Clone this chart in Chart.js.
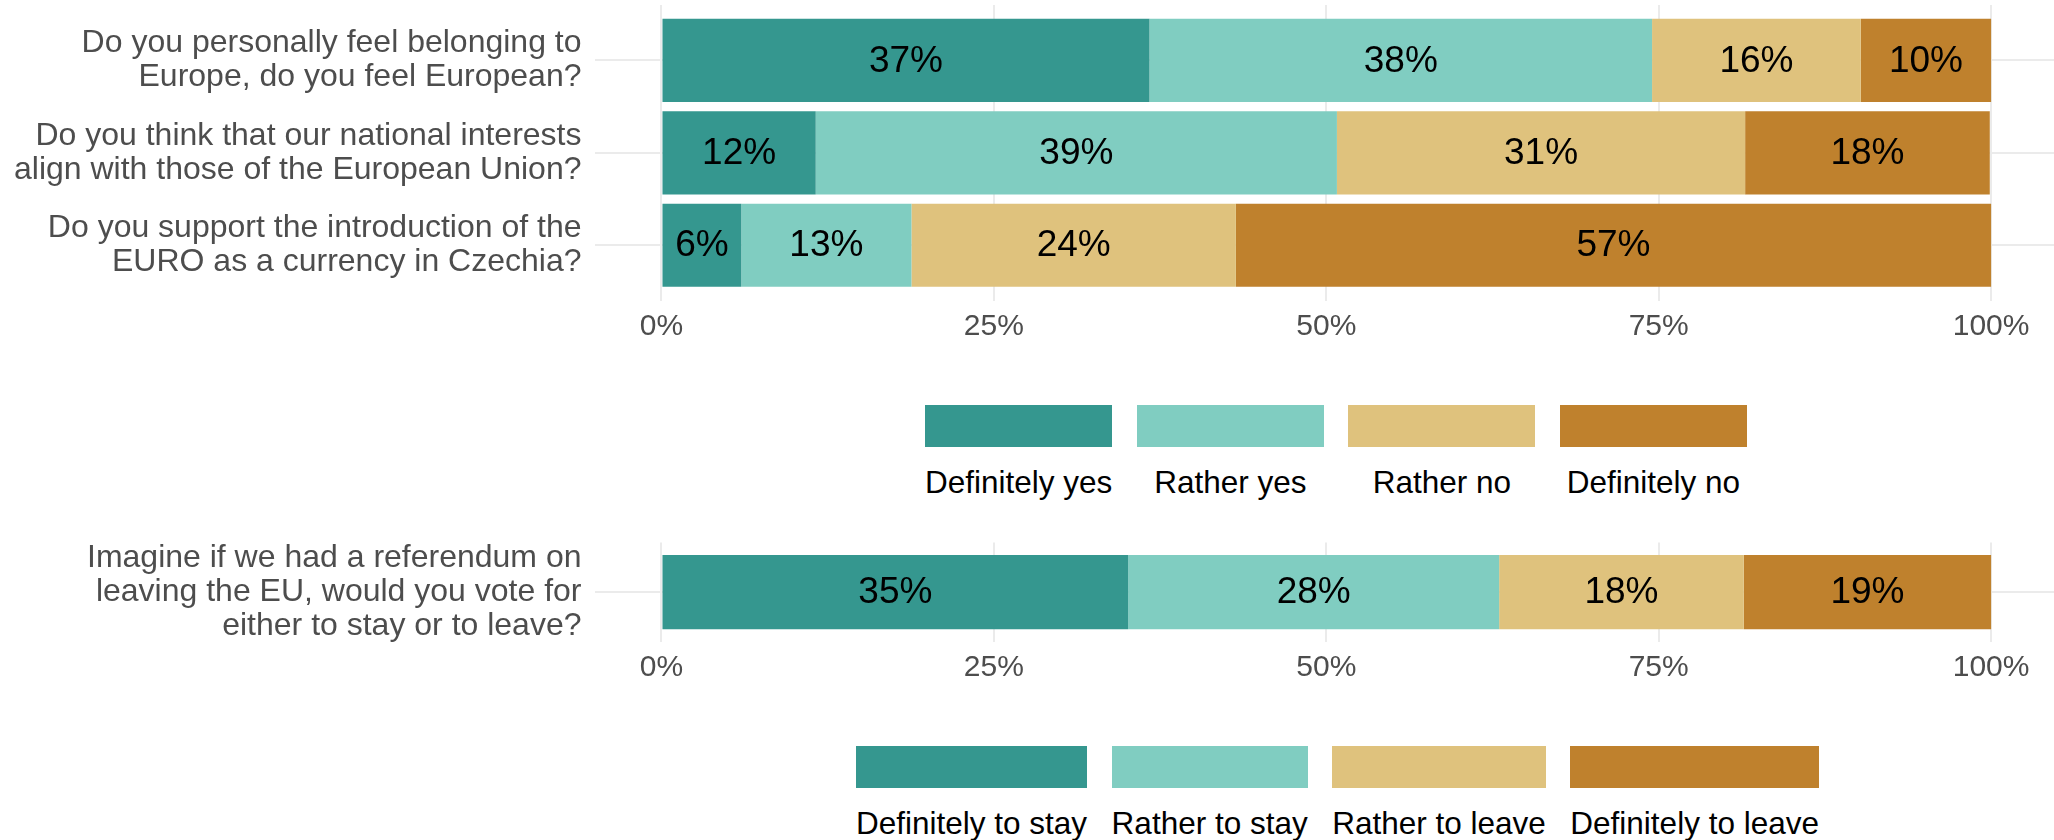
<!DOCTYPE html>
<html>
<head>
<meta charset="utf-8">
<script src="https://cdn.jsdelivr.net/npm/chart.js@4.4.0/dist/chart.umd.min.js"></script>
<style>
  body { margin: 0; background: #fff; width: 2054px; height: 840px; overflow: hidden; position: relative;
         font-family: "Liberation Sans", Arial, sans-serif; }
  .panel { position: absolute; left: 0; width: 2054px; }
  #topPanel { top: 0; height: 345px; }
  #bottomPanel { top: 530px; height: 156px; }
  .legend { position: absolute; display: flex; gap: 24.5px; }
  #legendTop { left: 925px; top: 405px; }
  #legendBottom { left: 856px; top: 746px; }
  .item { display: flex; flex-direction: column; align-items: center; min-width: 187px; }
  .key { width: 100%; height: 42px; }
  .lab { margin-top: 17px; font-size: 31.5px; line-height: 36px; color: #000; white-space: nowrap; }
</style>
</head>
<body>
<div class="panel" id="topPanel"><canvas id="chartTop"></canvas></div>
<div class="legend" id="legendTop"></div>
<div class="panel" id="bottomPanel"><canvas id="chartBottom"></canvas></div>
<div class="legend" id="legendBottom"></div>
<script>
const COLORS = ["#35978F", "#80CDC1", "#DFC27D", "#BF812D"];

// top block: three attitude questions
const questionsTop = [
  ["Do you personally feel belonging to", "Europe, do you feel European?"],
  ["Do you think that our national interests", "align with those of the European Union?"],
  ["Do you support the introduction of the", "EURO as a currency in Czechia?"],
];
const answersTop = ["Definitely yes", "Rather yes", "Rather no", "Definitely no"];
const definitelyYes = [36.7, 11.6, 6.0];
const ratherYes = [37.8, 39.2, 12.8];
const ratherNo = [15.7, 30.7, 24.4];
const definitelyNo = [9.8, 18.4, 56.8];

// bottom block: referendum question
const questionsBottom = [["Imagine if we had a referendum on", "leaving the EU, would you vote for", "either to stay or to leave?"]];
const answersBottom = ["Definitely to stay", "Rather to stay", "Rather to leave", "Definitely to leave"];
const definitelyStay = [35.1];
const ratherStay = [27.9];
const ratherLeave = [18.4];
const definitelyLeave = [18.6];

const xTicks = [0, 25, 50, 75, 100];

Chart.defaults.font.family = '"Liberation Sans", Arial, sans-serif';

const barLabels = {
  id: "barLabels",
  afterDatasetsDraw(chart) {
    const ctx = chart.ctx;
    ctx.save();
    ctx.font = '37px "Liberation Sans", Arial, sans-serif';
    ctx.fillStyle = "#000";
    ctx.textAlign = "center";
    ctx.textBaseline = "middle";
    chart.data.datasets.forEach((ds, i) => {
      chart.getDatasetMeta(i).data.forEach((bar, j) => {
        const { x, y, base } = bar.getProps(["x", "y", "base"], true);
        ctx.fillText(Math.round(ds.data[j].x) + "%", (x + base) / 2, y + 1);
      });
    });
    ctx.restore();
  },
};

function makeChart(canvasId, questions, answers, series, barPct, padTop) {
  const n = questions.length;
  return new Chart(document.getElementById(canvasId), {
    type: "bar",
    data: {
      datasets: answers.map((name, i) => ({
        label: name,
        data: series[i].map((v, j) => ({ x: v, y: j + 1 })),
        backgroundColor: COLORS[i],
        borderWidth: 0,
        categoryPercentage: 1,
        barPercentage: barPct,
      })),
    },
    options: {
      indexAxis: "y",
      animation: false,
      responsive: true,
      maintainAspectRatio: false,
      devicePixelRatio: 1,
      layout: { padding: { top: padTop, left: 0, right: 0, bottom: 0 } },
      plugins: { legend: { display: false }, tooltip: { enabled: false } },
      scales: {
        x: {
          type: "linear",
          stacked: true,
          min: -5,
          max: 104.73,
          afterBuildTicks: (s) => { s.ticks = xTicks.map((v) => ({ value: v })); },
          afterFit: (s) => { s.height = 44.3; s.paddingLeft = 0; s.paddingRight = 0; },
          grid: { color: "#EBEBEB", lineWidth: 2, drawTicks: false },
          border: { display: false },
          ticks: {
            color: "#4D4D4D",
            padding: 8.5,
            font: { size: 30, lineHeight: 1.2 },
            maxRotation: 0,
            autoSkip: false,
            callback: (v) => v + "%",
          },
        },
        y: {
          type: "linear",
          stacked: true,
          reverse: true,
          offset: false,
          min: 0.4,
          max: n + 0.6,
          afterBuildTicks: (s) => { s.ticks = questions.map((q, i) => ({ value: i + 1 })); },
          afterFit: (s) => { s.width = 595; s.paddingTop = 0; s.paddingBottom = 0; },
          grid: { color: "#EBEBEB", lineWidth: 2, drawTicks: false, offset: false },
          border: { display: false },
          ticks: {
            color: "#4D4D4D",
            padding: 13.5,
            autoSkip: false,
            font: { size: 32, lineHeight: "34px" },
            callback: (v) => questions[v - 1] || "",
          },
        },
      },
    },
    plugins: [barLabels],
  });
}

function buildLegend(id, answers) {
  const el = document.getElementById(id);
  answers.forEach((name, i) => {
    const item = document.createElement("div");
    item.className = "item";
    item.innerHTML = `<div class="key" style="background:${COLORS[i]}"></div><div class="lab">${name}</div>`;
    el.appendChild(item);
  });
}

makeChart("chartTop", questionsTop, answersTop, [definitelyYes, ratherYes, ratherNo, definitelyNo], 0.9, 5);
// single category: range is 1.2 units, so 0.9 of a unit is 0.75 of the axis length
makeChart("chartBottom", questionsBottom, answersBottom, [definitelyStay, ratherStay, ratherLeave, definitelyLeave], 0.75, 12.5);
buildLegend("legendTop", answersTop);
buildLegend("legendBottom", answersBottom);
</script>
</body>
</html>
